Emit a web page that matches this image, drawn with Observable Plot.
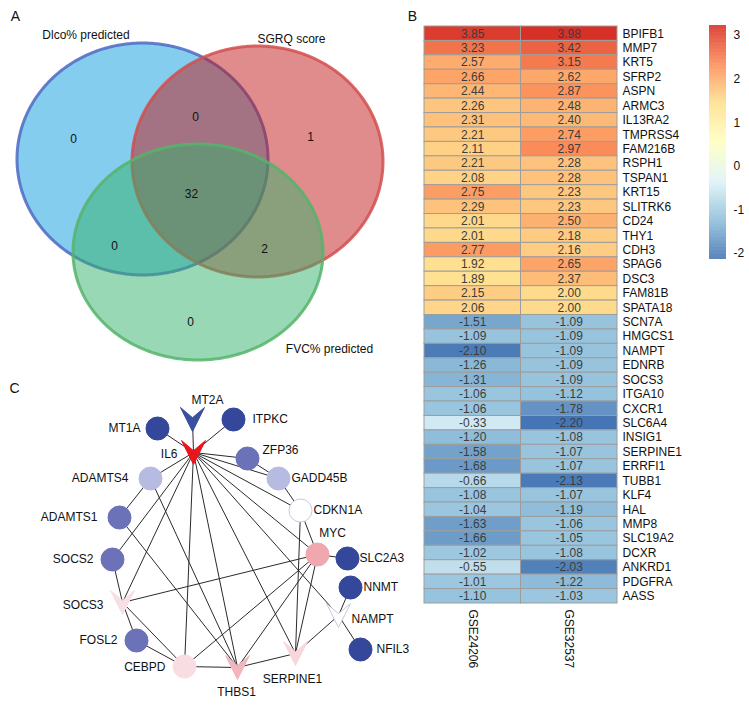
<!DOCTYPE html>
<html><head><meta charset="utf-8">
<script src="https://cdn.jsdelivr.net/npm/d3@7"></script>
<script src="https://cdn.jsdelivr.net/npm/@observablehq/plot@0.6"></script>
<style>
body{margin:0;background:#fff;}
#root{position:relative;width:749px;height:707px;overflow:hidden;background:#fff;font-family:Arial,"Liberation Sans",Helvetica,sans-serif;}
#root svg{position:absolute;overflow:visible;}
</style></head><body><div id="root"></div>
<script>
// ---------------- DATA ----------------
// Panel A: Venn diagram
const vennSets = ["Dlco% predicted", "SGRQ score", "FVC% predicted"];
const vennRegions = ["Dlco only", "Dlco∩SGRQ", "SGRQ only", "all three", "Dlco∩FVC", "SGRQ∩FVC", "FVC only"];
const vennCounts = [0, 0, 1, 32, 0, 2, 0];

// Panel B: heatmap (logFC)
const datasets = ["GSE24206", "GSE32537"];
const genes = ["BPIFB1","MMP7","KRT5","SFRP2","ASPN","ARMC3","IL13RA2","TMPRSS4","FAM216B","RSPH1",
  "TSPAN1","KRT15","SLITRK6","CD24","THY1","CDH3","SPAG6","DSC3","FAM81B","SPATA18",
  "SCN7A","HMGCS1","NAMPT","EDNRB","SOCS3","ITGA10","CXCR1","SLC6A4","INSIG1","SERPINE1",
  "ERRFI1","TUBB1","KLF4","HAL","MMP8","SLC19A2","DCXR","ANKRD1","PDGFRA","AASS"];
const gse24206 = [3.85,3.23,2.57,2.66,2.44,2.26,2.31,2.21,2.11,2.21,
  2.08,2.75,2.29,2.01,2.01,2.77,1.92,1.89,2.15,2.06,
  -1.51,-1.09,-2.10,-1.26,-1.31,-1.06,-1.06,-0.33,-1.20,-1.58,
  -1.68,-0.66,-1.08,-1.04,-1.63,-1.66,-1.02,-0.55,-1.01,-1.10];
const gse32537 = [3.98,3.42,3.15,2.62,2.87,2.48,2.40,2.74,2.97,2.28,
  2.28,2.23,2.23,2.50,2.18,2.16,2.65,2.37,2.00,2.00,
  -1.09,-1.09,-1.09,-1.09,-1.09,-1.12,-1.78,-2.20,-1.08,-1.07,
  -1.07,-2.13,-1.07,-1.19,-1.06,-1.05,-1.08,-2.03,-1.22,-1.03];
const legendTicks = [-2, -1, 0, 1, 2, 3];

// Panel C: interaction network
const networkGenes = ["MT2A","IL6","MT1A","ITPKC","ZFP36","GADD45B","ADAMTS4","CDKN1A","ADAMTS1","MYC",
  "SLC2A3","SOCS2","NNMT","SOCS3","NAMPT","FOSL2","NFIL3","CEBPD","THBS1","SERPINE1"];
const networkEdges = [
  ["IL6","MT1A"],["IL6","MT2A"],["IL6","ITPKC"],["IL6","ZFP36"],["IL6","GADD45B"],["IL6","CDKN1A"],
  ["IL6","MYC"],["IL6","NAMPT"],["IL6","SERPINE1"],["IL6","THBS1"],["IL6","CEBPD"],["IL6","SOCS3"],
  ["IL6","SOCS2"],["IL6","ADAMTS4"],
  ["ZFP36","GADD45B"],["GADD45B","CDKN1A"],["CDKN1A","MYC"],["CDKN1A","SERPINE1"],["MYC","SLC2A3"],
  ["MYC","SOCS3"],["MYC","CEBPD"],["MYC","THBS1"],["MYC","SERPINE1"],["NNMT","NAMPT"],["NAMPT","NFIL3"],
  ["NAMPT","SERPINE1"],["SERPINE1","THBS1"],["THBS1","CEBPD"],["THBS1","ADAMTS4"],["THBS1","ADAMTS1"],
  ["SOCS3","CEBPD"],["ADAMTS4","ADAMTS1"],["SOCS2","SOCS3"],["SOCS3","FOSL2"],["FOSL2","CEBPD"]
];

// ---------------- LAYOUT & STYLE ----------------
const FONT = 'Arial,"Liberation Sans",Helvetica,sans-serif';
const vennShapes = [
  {cx:142.5, cy:159, rx:125.5, ry:116, fill:"#0b9bdd", stroke:"#4f68c2"},
  {cx:257.5, cy:161.5, rx:125.5, ry:115.5, fill:"#c11919", stroke:"#d44e4e"},
  {cx:198, cy:252, rx:125, ry:108, fill:"#33b169", stroke:"#55b46a"}
];
const vennSetLabelPos = [[85.5,35],[291,39],[329,349]];
const vennRegionPos = [[73,139],[195,117],[310,137],[191,194],[114,246],[264,249],[190,322]];

const DB="#34479a", MB="#6b72b8", LB="#b8bbe1", WH="#ffffff";
const nodeStyle = {
  MT2A:{x:192,y:419,shape:"vee",fill:"#3a4fa0",anchor:"middle",dx:15,dy:-19},
  IL6:{x:193,y:452,shape:"vee",fill:"#e8161c",anchor:"end",dx:-16,dy:2},
  MT1A:{x:157,y:428,shape:"circle",fill:DB,anchor:"end",dx:-17,dy:0},
  ITPKC:{x:233,y:419,shape:"circle",fill:DB,anchor:"start",dx:19,dy:0},
  ZFP36:{x:247,y:458,shape:"circle",fill:MB,anchor:"start",dx:15,dy:-8},
  GADD45B:{x:278,y:478,shape:"circle",fill:LB,anchor:"start",dx:13,dy:0},
  ADAMTS4:{x:150,y:478,shape:"circle",fill:LB,anchor:"end",dx:-22,dy:0},
  CDKN1A:{x:300,y:510,shape:"circle",fill:WH,anchor:"start",dx:13,dy:0},
  ADAMTS1:{x:119,y:517,shape:"circle",fill:MB,anchor:"end",dx:-22,dy:0},
  MYC:{x:317,y:554,shape:"circle",fill:"#f0a7ad",anchor:"middle",dx:15,dy:-21},
  SLC2A3:{x:347,y:558,shape:"circle",fill:DB,anchor:"start",dx:12,dy:0},
  SOCS2:{x:112,y:559,shape:"circle",fill:MB,anchor:"end",dx:-19,dy:0},
  NNMT:{x:350,y:587,shape:"circle",fill:DB,anchor:"start",dx:13,dy:0},
  SOCS3:{x:122,y:602,shape:"vee",fill:"#f7dfe5",anchor:"end",dx:-19,dy:3},
  NAMPT:{x:338,y:615,shape:"vee",fill:WH,anchor:"start",dx:13,dy:4},
  FOSL2:{x:136,y:640,shape:"circle",fill:MB,anchor:"end",dx:-19,dy:0},
  NFIL3:{x:360,y:649,shape:"circle",fill:DB,anchor:"start",dx:16,dy:0},
  CEBPD:{x:184,y:666,shape:"circle",fill:"#f8dde3",anchor:"end",dx:-19,dy:1},
  THBS1:{x:237,y:667,shape:"vee",fill:"#f2b6be",anchor:"middle",dx:-1,dy:25},
  SERPINE1:{x:295,y:653,shape:"vee",fill:"#f8d6dc",anchor:"middle",dx:-3,dy:26}
};
const heatColors = ["#4575b4","#91bfdb","#e0f3f8","#ffffbf","#fee090","#fc8d59","#d73027"];

// ---------------- BUILD ----------------
const root = document.getElementById("root");

// Panels A + C (page-coordinate frame)
function ellipse(e){
  return d3.range(0, 241).map(k => {
    const t = Math.PI * k / 240;
    return {x: e.cx - e.rx * Math.cos(t), y1: e.cy - e.ry * Math.sin(t), y2: e.cy + e.ry * Math.sin(t)};
  });
}
const vee = {draw(ctx, size){
  const r = Math.sqrt(size / Math.PI);
  ctx.moveTo(-r, -r); ctx.lineTo(0, -0.15 * r); ctx.lineTo(r, -r); ctx.lineTo(0, r); ctx.closePath();
}};
const nodes = networkGenes.map(g => ({name: g, ...nodeStyle[g]}));
const byName = Object.fromEntries(nodes.map(n => [n.name, n]));
const links = networkEdges.map(([a, b]) => ({a: byName[a], b: byName[b]}));
const vennLabelData = vennSets.map((s, i) => ({text: s, x: vennSetLabelPos[i][0], y: vennSetLabelPos[i][1]}));
const vennCountData = vennCounts.map((c, i) => ({text: String(c), region: vennRegions[i], x: vennRegionPos[i][0], y: vennRegionPos[i][1]}));
const nodeStroke = d => d.fill === WH ? "#c9c9df" : d.fill;

const left = Plot.plot({
  width: 420, height: 707, margin: 0,
  x: {domain: [0, 420], range: [0, 420], axis: null},
  y: {domain: [0, 707], range: [0, 707], axis: null},
  style: {fontFamily: FONT, fontSize: "12px", background: "transparent", color: "#111"},
  marks: [
    ...vennShapes.map(e => Plot.areaY(ellipse(e), {x: "x", y1: "y1", y2: "y2", fill: e.fill, fillOpacity: 0.5,
      stroke: e.stroke, strokeWidth: 3, strokeOpacity: 0.85})),
    Plot.text(vennLabelData, {x: "x", y: "y", text: "text", fontSize: 12, fill: "#111"}),
    Plot.text(vennCountData, {x: "x", y: "y", text: "text", fontSize: 12, fill: "#111"}),
    Plot.link(links, {x1: d => d.a.x, y1: d => d.a.y, x2: d => d.b.x, y2: d => d.b.y, stroke: "#2b2b2b", strokeWidth: 1}),
    Plot.dot(nodes.filter(d => d.shape === "circle"), {x: "x", y: "y", r: 11.5, fill: "fill", stroke: nodeStroke, strokeWidth: 1}),
    Plot.dot(nodes.filter(d => d.shape === "vee"), {x: "x", y: "y", r: 12, symbol: vee, fill: "fill", stroke: nodeStroke, strokeWidth: 1}),
    ...["start", "middle", "end"].map(a => Plot.text(nodes.filter(d => d.anchor === a),
      {x: d => d.x + d.dx, y: d => d.y + d.dy, text: "name", textAnchor: a, fontSize: 12, fill: "#111"})),
    Plot.text(["A", "B", "C"], {x: [15, 412, 14], y: [16, 16, 388], text: d => d, fontSize: 14, fill: "#111"})
  ]
});
left.style.left = "0px"; left.style.top = "0px";
root.appendChild(left);

// Panel B heatmap
const heatData = genes.flatMap((g, i) => [
  {gene: g, set: datasets[0], v: gse24206[i]},
  {gene: g, set: datasets[1], v: gse32537[i]}
]);
const hMin = -2.2, hMax = 3.98;
const heat = Plot.plot({
  width: 193 + 90, height: 577 + 80,
  marginLeft: 0, marginTop: 0, marginRight: 90, marginBottom: 80,
  x: {domain: datasets, padding: 0, round: false, label: null, tickSize: 0, tickRotate: 90, tickPadding: 6},
  y: {domain: genes, padding: 0, round: false, label: null, axis: "right", tickSize: 0, tickPadding: 5},
  color: {type: "linear", domain: d3.range(7).map(i => hMin + i * (hMax - hMin) / 6), range: heatColors},
  style: {fontFamily: FONT, fontSize: "12px", background: "transparent", color: "#111"},
  marks: [
    Plot.cell(heatData, {x: "set", y: "gene", fill: "v", stroke: "#9d9d9d", strokeWidth: 1, inset: 0}),
    Plot.text(heatData, {x: "set", y: "gene", text: d => d.v.toFixed(2), fill: "#3d3d3d", fontSize: 12})
  ]
});
heat.style.left = "424px"; heat.style.top = "26px";
root.appendChild(heat);

// Colour bar
const cbDomain = [-2.14, 3.23];
const cbStep = 0.01;
const cbValues = d3.range(cbDomain[0], cbDomain[1], cbStep);
const cb = Plot.plot({
  width: 50, height: 234, marginLeft: 0, marginRight: 33, marginTop: 0, marginBottom: 0,
  x: {domain: [0, 1], axis: null},
  y: {domain: cbDomain, axis: "right", ticks: legendTicks, tickSize: 0, tickPadding: 7, tickFormat: d => String(d), label: null},
  color: {type: "linear", domain: d3.range(7).map(i => cbDomain[0] + i * (cbDomain[1] - cbDomain[0]) / 6), range: heatColors},
  style: {fontFamily: FONT, fontSize: "12px", background: "transparent", color: "#111"},
  marks: [
    Plot.rect(cbValues, {x1: 0, x2: 1, y1: d => d, y2: d => Math.min(d + cbStep * 1.5, cbDomain[1]), fill: d => d})
  ]
});
cb.style.left = "709px"; cb.style.top = "25px";
root.appendChild(cb);
</script></body></html>
